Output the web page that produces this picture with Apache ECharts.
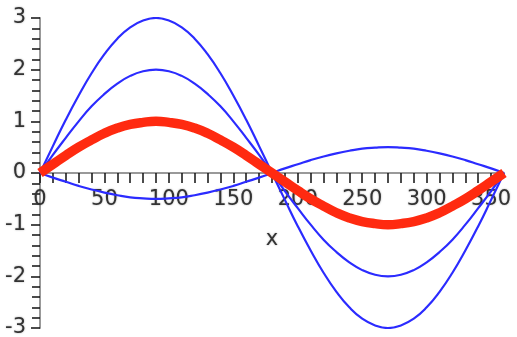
<!DOCTYPE html>
<html><head><meta charset="utf-8">
<script src="https://cdn.jsdelivr.net/npm/echarts@6/dist/echarts.min.js"></script>
<style>html,body{margin:0;padding:0;background:#fff}#c{width:517px;height:337px}</style>
</head><body><div id="c"></div>
<script>
// x positions in degrees (every 10)
const xs = [0,10,20,30,40,50,60,70,80,90,100,110,120,130,140,150,160,170,180,190,200,210,220,230,240,250,260,270,280,290,300,310,320,330,340,350,360];
// values
const amp3 = [0,0.52,1.03,1.5,1.93,2.3,2.6,2.82,2.95,3,2.95,2.82,2.6,2.3,1.93,1.5,1.03,0.52,0,-0.52,-1.03,-1.5,-1.93,-2.3,-2.6,-2.82,-2.95,-3,-2.95,-2.82,-2.6,-2.3,-1.93,-1.5,-1.03,-0.52,0];
const amp2 = [0,0.35,0.68,1,1.29,1.53,1.73,1.88,1.97,2,1.97,1.88,1.73,1.53,1.29,1,0.68,0.35,0,-0.35,-0.68,-1,-1.29,-1.53,-1.73,-1.88,-1.97,-2,-1.97,-1.88,-1.73,-1.53,-1.29,-1,-0.68,-0.35,0];
const amp1 = [0,0.17,0.34,0.5,0.64,0.77,0.87,0.94,0.98,1,0.98,0.94,0.87,0.77,0.64,0.5,0.34,0.17,0,-0.17,-0.34,-0.5,-0.64,-0.77,-0.87,-0.94,-0.98,-1,-0.98,-0.94,-0.87,-0.77,-0.64,-0.5,-0.34,-0.17,0];
const ampNeg = [0,-0.09,-0.17,-0.25,-0.32,-0.38,-0.43,-0.47,-0.49,-0.5,-0.49,-0.47,-0.43,-0.38,-0.32,-0.25,-0.17,-0.09,0,0.09,0.17,0.25,0.32,0.38,0.43,0.47,0.49,0.5,0.49,0.47,0.43,0.38,0.32,0.25,0.17,0.09,0];
const xTickLabels = ['0','50','100','150','200','250','300','350'];
const yTickLabels = ['-3','-2','-1','0','1','2','3'];

const pair = arr => xs.map((x,i)=>[x,arr[i]]);
const lblFont = {fontFamily:'DejaVu Sans, sans-serif', fontSize:21, color:'#333', textShadowColor:'rgba(0,0,0,0.35)', textShadowBlur:2};
const chart = echarts.init(document.getElementById('c'), null, {renderer:'canvas'});
chart.setOption({
  animation:false,
  grid:{left:40,right:13,top:18,bottom:9,containLabel:false,outerBoundsMode:'none'},
  xAxis:{type:'value',min:0,max:360,interval:10,position:'bottom',offset:-155,
    name:'x',nameLocation:'middle',nameGap:56,
    nameTextStyle:Object.assign({},lblFont),
    axisLine:{onZero:false,lineStyle:{color:'#999',width:2}},
    axisTick:{show:true,inside:false,length:10,lineStyle:{color:'#111',width:1.5}},
    axisLabel:Object.assign({margin:16,formatter:v=>{const s=String(Math.round(v));return xTickLabels.includes(s)?s:'';},showMaxLabel:false},lblFont),
    splitLine:{show:false}},
  yAxis:{type:'value',min:-3,max:3,interval:1,
    axisLine:{onZero:false,lineStyle:{color:'#999',width:2}},
    axisTick:{show:true,length:9,lineStyle:{color:'#111',width:1.5}},
    minorTick:{show:true,splitNumber:5,length:8,lineStyle:{color:'#111',width:1.5}},
    axisLabel:Object.assign({margin:14,formatter:v=>{const s=String(Math.round(v));return yTickLabels.includes(s)?s:'';}},lblFont),
    splitLine:{show:false}},
  series:[
    {type:'line',data:pair(amp3),smooth:true,showSymbol:false,lineStyle:{color:'#2b2bff',width:2.2}},
    {type:'line',data:pair(amp2),smooth:true,showSymbol:false,lineStyle:{color:'#2b2bff',width:2.2}},
    {type:'line',data:pair(ampNeg),smooth:true,showSymbol:false,lineStyle:{color:'#2b2bff',width:2.2}},
    {type:'line',data:pair(amp1),smooth:true,showSymbol:false,lineStyle:{color:'#ff2a10',width:9.5}}
  ]
});
</script></body></html>
